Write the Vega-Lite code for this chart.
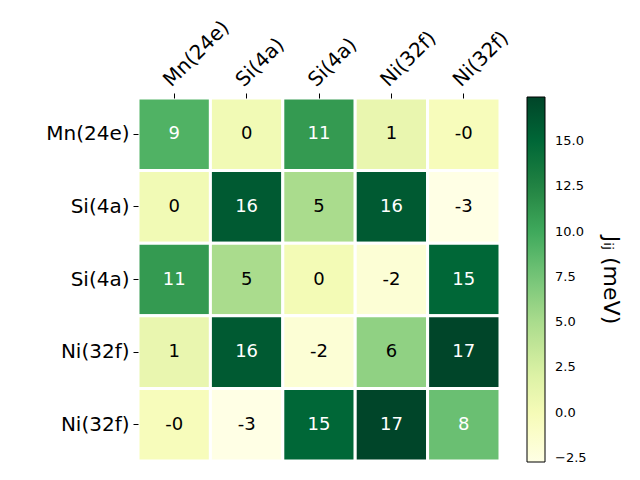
{
  "$schema": "https://vega.github.io/schema/vega-lite/v6.json",
  "width": 362,
  "height": 363,
  "autosize": "none",
  "padding": {"left": 138, "top": 98, "right": 140, "bottom": 19},
  "background": "white",
  "config": {"view": {"stroke": null}, "font": "DejaVu Sans"},
  "data": {"values": [
    {"r": 0, "c": 0, "v": 9.2}, {"r": 0, "c": 1, "v": 0.3}, {"r": 0, "c": 2, "v": 11.0}, {"r": 0, "c": 3, "v": 1.0}, {"r": 0, "c": 4, "v": -0.3},
    {"r": 1, "c": 0, "v": 0.3}, {"r": 1, "c": 1, "v": 15.9}, {"r": 1, "c": 2, "v": 5.0}, {"r": 1, "c": 3, "v": 15.9}, {"r": 1, "c": 4, "v": -2.7},
    {"r": 2, "c": 0, "v": 11.0}, {"r": 2, "c": 1, "v": 5.0}, {"r": 2, "c": 2, "v": 0.1}, {"r": 2, "c": 3, "v": -1.8}, {"r": 2, "c": 4, "v": 15.0},
    {"r": 3, "c": 0, "v": 1.0}, {"r": 3, "c": 1, "v": 15.9}, {"r": 3, "c": 2, "v": -1.8}, {"r": 3, "c": 3, "v": 6.2}, {"r": 3, "c": 4, "v": 17.4},
    {"r": 4, "c": 0, "v": -0.3}, {"r": 4, "c": 1, "v": -2.7}, {"r": 4, "c": 2, "v": 15.0}, {"r": 4, "c": 3, "v": 17.4}, {"r": 4, "c": 4, "v": 8.0}
  ]},
  "encoding": {
    "x": {"field": "c", "type": "ordinal", "scale": {"paddingInner": 0, "paddingOuter": 0},
      "axis": {"orient": "top", "title": null, "domain": false, "labelAngle": -45, "labelAlign": "left", "labelBaseline": "bottom",
        "labelFontSize": 20, "labelColor": "black", "tickColor": "black", "tickSize": 5, "labelPadding": 3,
        "labelExpr": "['Mn(24e)','Si(4a)','Si(4a)','Ni(32f)','Ni(32f)'][datum.value]"}},
    "y": {"field": "r", "type": "ordinal", "scale": {"paddingInner": 0, "paddingOuter": 0},
      "axis": {"title": null, "domain": false, "labelFontSize": 20, "labelColor": "black", "tickColor": "black", "tickSize": 5, "labelPadding": 4,
        "labelExpr": "['Mn(24e)','Si(4a)','Si(4a)','Ni(32f)','Ni(32f)'][datum.value]"}}
  },
  "layer": [
    {
      "mark": {"type": "rect", "stroke": "white", "strokeWidth": 3},
      "encoding": {
        "color": {"field": "v", "type": "quantitative",
          "scale": {"domain": [-2.72, -0.20125, 2.3175, 4.83625, 7.355, 9.87375, 12.3925, 14.91125, 17.43],
                    "range": ["#ffffe5", "#f7fcb9", "#d9f0a3", "#addd8e", "#78c679", "#41ab5d", "#238443", "#006837", "#004529"],
                    "interpolate": "rgb"},
          "legend": {"orient": "none", "legendX": 389, "legendY": -1, "gradientLength": 365, "gradientThickness": 18,
            "gradientStrokeColor": "black", "gradientStrokeWidth": 1,
            "values": [-2.5, 0, 2.5, 5, 7.5, 10, 12.5, 15], "format": ".1f",
            "labelFontSize": 13, "labelColor": "black", "labelOffset": 10,
            "title": "Jᵢⱼ (meV)", "titleOrient": "right", "titleAnchor": "middle", "titleFontSize": 22, "titleFontWeight": "normal", "titleColor": "black", "titlePadding": 12}}
      }
    },
    {
      "mark": {"type": "text", "fontSize": 18,
        "text": {"expr": "(datum.v < 0 ? '-' : '') + format(abs(datum.v), '.0f')"},
        "fill": {"expr": "datum.v > 7 ? 'white' : 'black'"}},
      "encoding": {}
    }
  ]
}
